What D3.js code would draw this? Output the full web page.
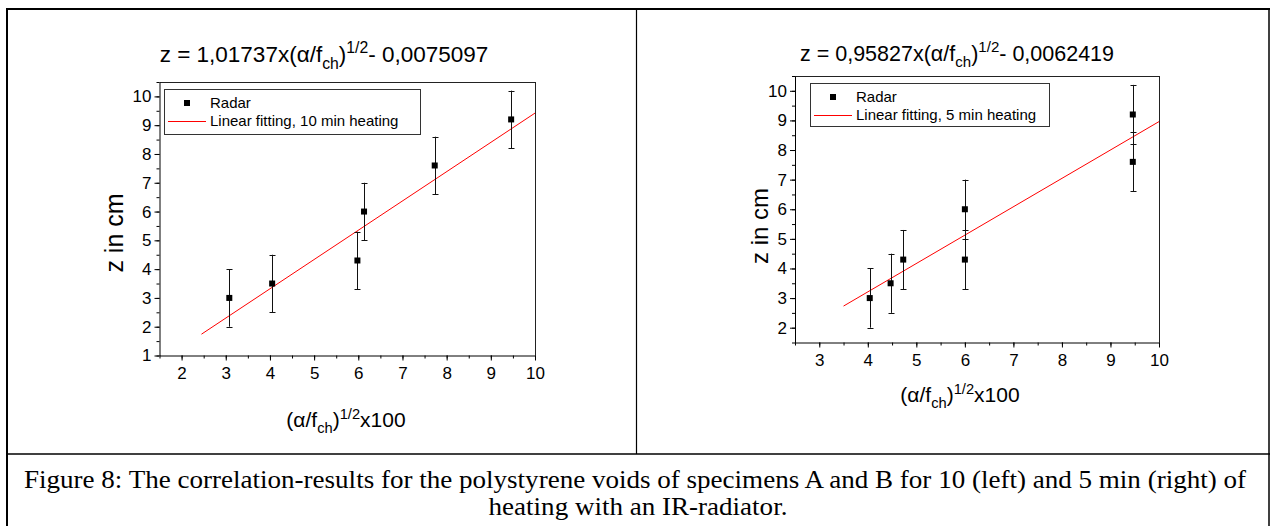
<!DOCTYPE html>
<html><head><meta charset="utf-8">
<script src="https://cdn.jsdelivr.net/npm/d3@7/dist/d3.min.js"></script>
<style>body{margin:0;background:#fff}svg{display:block}</style>
</head><body><svg id="c" width="1274" height="526"></svg>
<script>
// ---- data ----
const leftX = [3.08, 4.05, 5.98, 6.13, 7.73, 9.46];
const leftY = [3.0, 3.5, 4.3, 6.0, 7.6, 9.2];
const leftErr = [1, 1, 1, 1, 1, 1];
const leftFitX = [2.45, 10];
const leftFitY = [1.74, 9.42];
const rightX = [4.04, 4.47, 4.73, 6.0, 6.0, 9.46, 9.46];
const rightY = [3.0, 3.5, 4.3, 6.0, 4.3, 9.2, 7.6];
const rightErr = [1, 1, 1, 1, 1, 1, 1];
const rightFitX = [3.5, 10];
const rightFitY = [2.73, 8.96];
const leftXTicks = [2, 3, 4, 5, 6, 7, 8, 9, 10];
const leftYTicks = [1, 2, 3, 4, 5, 6, 7, 8, 9, 10];
const rightXTicks = [3, 4, 5, 6, 7, 8, 9, 10];
const rightYTicks = [2, 3, 4, 5, 6, 7, 8, 9, 10];
const leftTitle = ["1,01737", "0,0075097"];
const rightTitle = ["0,95827", "0,0062419"];
const legendMarker = "Radar";
const leftLegendLine = "Linear fitting, 10 min heating";
const rightLegendLine = "Linear fitting, 5 min heating";
const yLabel = "z in cm";
const caption1 = "Figure 8: The correlation-results for the polystyrene voids of specimens A and B for 10 (left) and 5 min (right) of";
const caption2 = "heating with an IR-radiator.";

const svg = d3.select("#c");
const SANS = "'Liberation Sans', Arial, sans-serif";

// table borders
const B = svg.append("g").attr("stroke", "#000").attr("fill", "none");
B.append("line").attr("x1", 6).attr("x2", 1270).attr("y1", 9).attr("y2", 9).attr("stroke-width", 2);
B.append("line").attr("x1", 7).attr("x2", 7).attr("y1", 8).attr("y2", 526).attr("stroke-width", 2);
B.append("line").attr("x1", 1269).attr("x2", 1269).attr("y1", 8).attr("y2", 526).attr("stroke-width", 1.5);
B.append("line").attr("x1", 636.5).attr("x2", 636.5).attr("y1", 9).attr("y2", 454).attr("stroke-width", 1.2);
B.append("line").attr("x1", 6).attr("x2", 1270).attr("y1", 454).attr("y2", 454).attr("stroke-width", 1.5);

function addMath(t, pre, post, fs) {
  t.append("tspan").text(pre + "(α/f");
  t.append("tspan").attr("dy", fs * 0.3).attr("font-size", fs * 0.7).text("ch");
  t.append("tspan").attr("dy", -fs * 0.3).text(")");
  t.append("tspan").attr("dy", -fs * 0.4).attr("font-size", fs * 0.7).text("1/2");
  t.append("tspan").attr("dy", fs * 0.4).text(post);
}

function panel(c) {
  const x = d3.scaleLinear().domain(c.xDom).range([c.px0, c.px1]);
  const y = d3.scaleLinear().domain(c.yDom).range([c.py0, c.py1]);
  const g = svg.append("g").attr("font-family", SANS);

  // frame
  g.append("line").attr("x1", c.px0).attr("x2", c.px1).attr("y1", c.py1 + 0.5).attr("y2", c.py1 + 0.5).attr("stroke", "#222");
  g.append("line").attr("x1", c.px1 + 0.5).attr("x2", c.px1 + 0.5).attr("y1", c.py1).attr("y2", c.py0).attr("stroke", "#222");

  const xMinor = d3.range(c.xDom[0], c.xDom[1] + 0.001, 0.5);
  const yMinor = d3.range(c.yDom[0], c.yDom[1] + 0.001, 0.5);

  const xa = g.append("g").attr("transform", `translate(0,${c.py0})`);
  xa.append("g").call(d3.axisBottom(x).tickValues(xMinor).tickSize(3).tickSizeOuter(0).tickFormat(""));
  xa.append("g").call(d3.axisBottom(x).tickValues(c.xTicks).tickSize(5).tickSizeOuter(0).tickPadding(6).tickFormat(d3.format("d")))
    .call(s => s.select(".domain").remove());
  const ya = g.append("g").attr("transform", `translate(${c.px0},0)`);
  ya.append("g").call(d3.axisLeft(y).tickValues(yMinor).tickSize(3).tickSizeOuter(0).tickFormat(""));
  ya.append("g").call(d3.axisLeft(y).tickValues(c.yTicks).tickSize(5).tickSizeOuter(0).tickPadding(3).tickFormat(d3.format("d")))
    .call(s => s.select(".domain").remove());
  g.selectAll(".tick text").attr("font-size", c.tickFs).attr("font-family", SANS).attr("fill", "#000");
  g.selectAll(".domain,.tick line").attr("stroke", "#000");

  // fit line
  g.append("path").datum(d3.zip(c.fitX, c.fitY))
    .attr("d", d3.line().x(d => x(d[0])).y(d => y(d[1])))
    .attr("stroke", "#ff0000").attr("stroke-width", 1).attr("fill", "none");

  // error bars
  const pts = c.xs.map((v, i) => ({ x: v, y: c.ys[i], e: c.errs[i] }));
  const eb = g.append("g").attr("stroke", "#111").attr("stroke-width", 1);
  pts.forEach(p => {
    const cx = Math.round(x(p.x)) + 0.5;
    eb.append("line").attr("x1", cx).attr("x2", cx).attr("y1", y(p.y - p.e)).attr("y2", y(p.y + p.e));
    [p.y - p.e, p.y + p.e].forEach(v => {
      eb.append("line").attr("x1", cx - 3).attr("x2", cx + 3).attr("y1", Math.round(y(v)) + 0.5).attr("y2", Math.round(y(v)) + 0.5);
    });
  });
  g.append("g").selectAll("rect").data(pts).join("rect")
    .attr("x", d => x(d.x) - 3).attr("y", d => y(d.y) - 3).attr("width", 6).attr("height", 6).attr("fill", "#000");

  // legend
  const L = c.legend;
  g.append("rect").attr("x", L.x + 0.5).attr("y", L.y + 0.5).attr("width", L.w).attr("height", L.h)
    .attr("fill", "none").attr("stroke", "#333");
  g.append("rect").attr("x", L.x + 20).attr("y", L.y + 11).attr("width", 6).attr("height", 6).attr("fill", "#000");
  g.append("text").attr("x", L.x + 46).attr("y", L.y + 19).attr("font-size", 15).text(legendMarker);
  g.append("line").attr("x1", L.x + 4).attr("x2", L.x + 42).attr("y1", L.y + 32.5).attr("y2", L.y + 32.5).attr("stroke", "#ff0000");
  g.append("text").attr("x", L.x + 46).attr("y", L.y + 37).attr("font-size", 15).text(L.text);

  // title
  const t = g.append("text").attr("x", c.titleX).attr("y", c.titleY).attr("text-anchor", "middle").attr("font-size", c.titleFs);
  addMath(t, `z = ${c.title[0]}x`, `- ${c.title[1]}`, c.titleFs);

  // axis labels
  g.append("text").attr("transform", `translate(${c.ylx},${c.yly}) rotate(-90)`).attr("text-anchor", "middle")
    .attr("font-size", c.ylFs).text(yLabel);
  const xl = g.append("text").attr("x", c.xlx).attr("y", c.xly).attr("text-anchor", "middle").attr("font-size", 21);
  addMath(xl, "", "x100", 21);
}

panel({
  xDom: [1.5, 10], yDom: [1, 10.5], px0: 159.5, px1: 535, py0: 355.5, py1: 82,
  xTicks: leftXTicks, yTicks: leftYTicks, xs: leftX, ys: leftY, errs: leftErr,
  fitX: leftFitX, fitY: leftFitY, tickFs: 17,
  legend: { x: 164, y: 89, w: 256, h: 45, text: leftLegendLine },
  title: leftTitle, titleX: 324, titleY: 62, titleFs: 22.5,
  ylx: 123, yly: 233, ylFs: 25, xlx: 346, xly: 427
});
panel({
  xDom: [2.5, 10], yDom: [1.5, 10.5], px0: 795, px1: 1159, py0: 342.5, py1: 76,
  xTicks: rightXTicks, yTicks: rightYTicks, xs: rightX, ys: rightY, errs: rightErr,
  fitX: rightFitX, fitY: rightFitY, tickFs: 17,
  legend: { x: 810, y: 83, w: 239, h: 43, text: rightLegendLine },
  title: rightTitle, titleX: 957, titleY: 61, titleFs: 21.5,
  ylx: 768, yly: 226, ylFs: 24, xlx: 960, xly: 402
});

// caption
const cap = svg.append("g").attr("font-family", "'Liberation Serif', 'Times New Roman', serif").attr("font-size", 25)
  .attr("text-anchor", "middle").attr("fill", "#000");
const c1 = cap.append("text").attr("x", 635).attr("y", 488).text(caption1);
const c2 = cap.append("text").attr("x", 638).attr("y", 515).text(caption2);
const k = 1222 / c1.node().getComputedTextLength();
c1.attr("textLength", 1222).attr("lengthAdjust", "spacingAndGlyphs");
c2.attr("textLength", c2.node().getComputedTextLength() * k).attr("lengthAdjust", "spacingAndGlyphs");
</script></body></html>
